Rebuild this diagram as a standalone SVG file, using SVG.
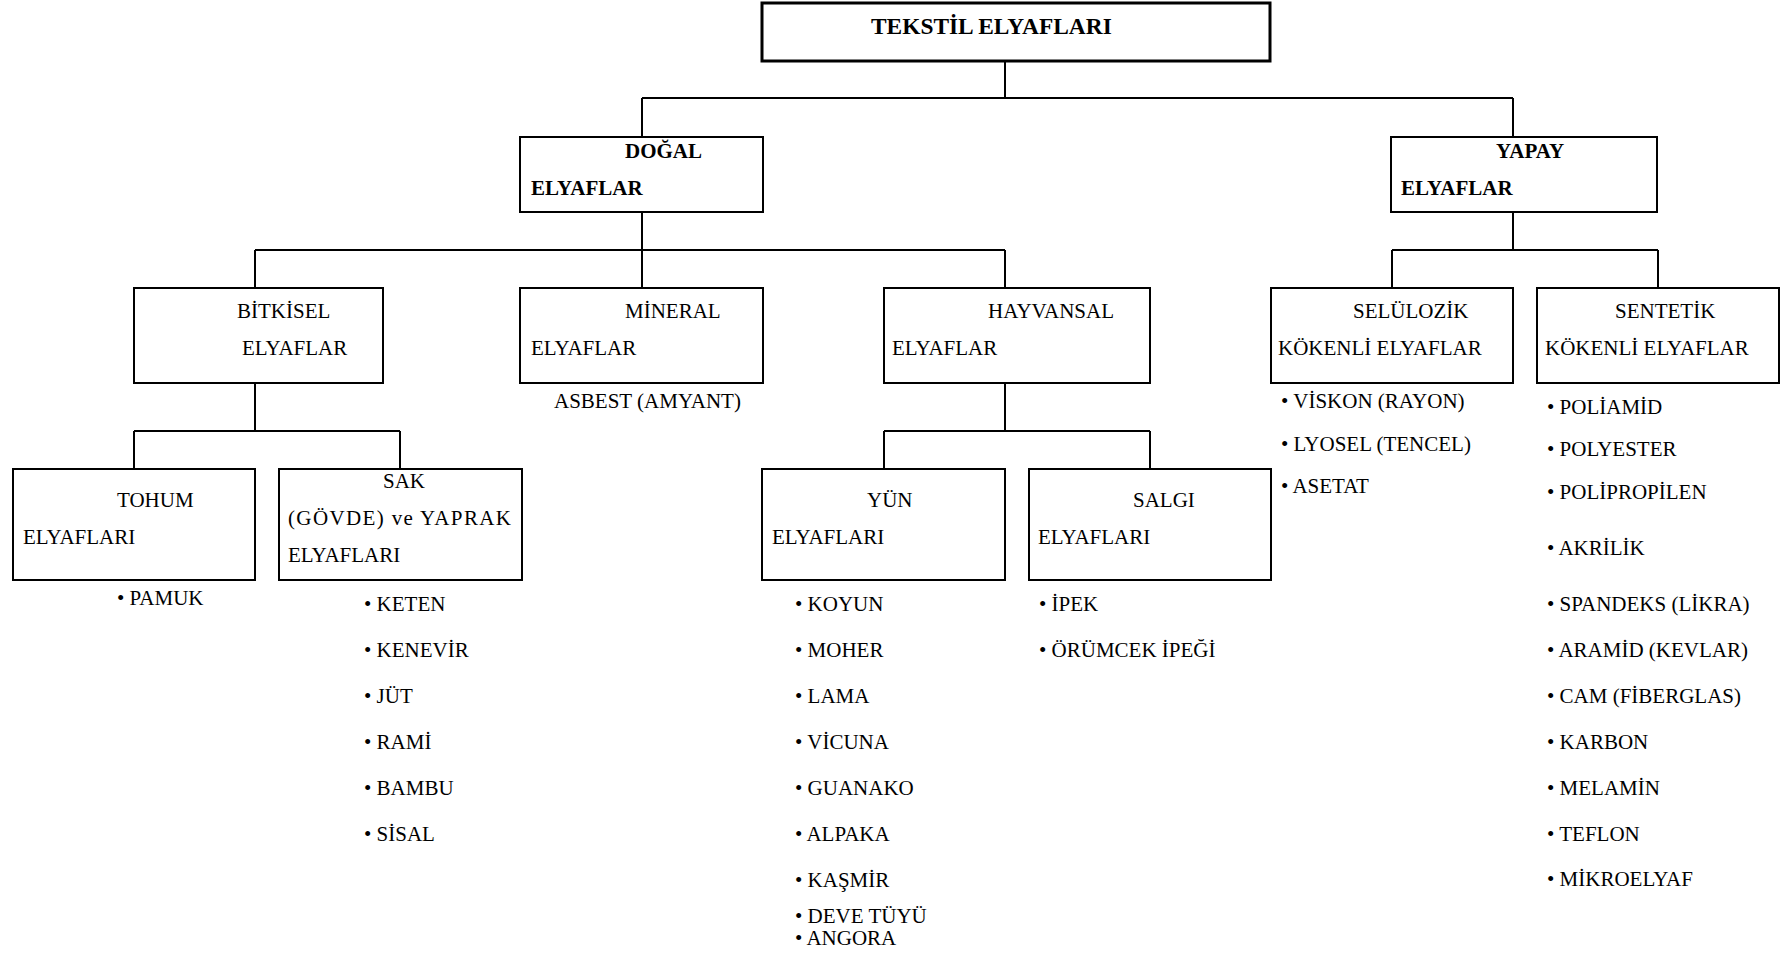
<svg xmlns="http://www.w3.org/2000/svg" width="1791" height="953" viewBox="0 0 1791 953">
<style>
text{font-family:"Liberation Serif","Times New Roman",serif;font-size:21px;fill:#000}
.b{font-weight:bold}
.t{font-size:23.4px;font-weight:bold}
rect{fill:#fff;stroke:#000;stroke-width:2}
.thick{stroke-width:3}
#connectors path{fill:none;stroke:#000;stroke-width:2}
</style>
<rect width="1791" height="953" style="fill:#fff;stroke:none"/>
<g id="connectors">
<path d="M1005 61V98M642 98H1513M642 98V137M1513 98V137"/>
<path d="M642 212V250M255 250H1005M255 250V288M642 250V288M1005 250V288"/>
<path d="M1513 212V250M1392 250H1658M1392 250V288M1658 250V288"/>
<path d="M255 383V431M134 431H400M134 431V469M400 431V469"/>
<path d="M1005 383V431M884 431H1150M884 431V469M1150 431V469"/>
</g>
<g id="tekstil"><rect class="thick" x="762" y="3" width="508" height="58"/><text class="t" x="871" y="34">TEKSTİL ELYAFLARI</text></g>
<g id="dogal"><rect x="520" y="137" width="243" height="75"/><text class="b" x="625" y="158">DOĞAL</text><text class="b" x="531" y="195">ELYAFLAR</text></g>
<g id="yapay"><rect x="1391" y="137" width="266" height="75"/><text class="b" x="1496" y="158">YAPAY</text><text class="b" x="1401" y="195">ELYAFLAR</text></g>
<g id="bitkisel"><rect x="134" y="288" width="249" height="95"/><text x="237" y="318">BİTKİSEL</text><text x="242" y="355">ELYAFLAR</text></g>
<g id="mineral"><rect x="520" y="288" width="243" height="95"/><text x="625" y="318">MİNERAL</text><text x="531" y="355">ELYAFLAR</text><text x="554" y="408">ASBEST (AMYANT)</text></g>
<g id="hayvansal"><rect x="884" y="288" width="266" height="95"/><text x="988" y="318">HAYVANSAL</text><text x="892" y="355">ELYAFLAR</text></g>
<g id="seluloz"><rect x="1271" y="288" width="242" height="95"/><text x="1353" y="318">SELÜLOZİK</text><text x="1278" y="355">KÖKENLİ ELYAFLAR</text>
<text x="1281" y="408">• VİSKON (RAYON)</text><text x="1281" y="451">• LYOSEL (TENCEL)</text><text x="1281" y="493">• ASETAT</text></g>
<g id="sentetik"><rect x="1537" y="288" width="242" height="95"/><text x="1615" y="318">SENTETİK</text><text x="1545" y="355">KÖKENLİ ELYAFLAR</text>
<text x="1547" y="414">• POLİAMİD</text><text x="1547" y="456">• POLYESTER</text><text x="1547" y="499">• POLİPROPİLEN</text><text x="1547" y="555">• AKRİLİK</text><text x="1547" y="611">• SPANDEKS (LİKRA)</text><text x="1547" y="657">• ARAMİD (KEVLAR)</text><text x="1547" y="703">• CAM (FİBERGLAS)</text><text x="1547" y="749">• KARBON</text><text x="1547" y="795">• MELAMİN</text><text x="1547" y="841">• TEFLON</text><text x="1547" y="886">• MİKROELYAF</text></g>
<g id="tohum"><rect x="13" y="469" width="242" height="111"/><text x="117" y="507">TOHUM</text><text x="23" y="544">ELYAFLARI</text><text x="117" y="605">• PAMUK</text></g>
<g id="sak"><rect x="279" y="469" width="243" height="111"/><text x="383" y="488">SAK</text><text x="288" y="525" textLength="223" lengthAdjust="spacing">(GÖVDE) ve YAPRAK</text><text x="288" y="562">ELYAFLARI</text>
<text x="364" y="611">• KETEN</text><text x="364" y="657">• KENEVİR</text><text x="364" y="703">• JÜT</text><text x="364" y="749">• RAMİ</text><text x="364" y="795">• BAMBU</text><text x="364" y="841">• SİSAL</text></g>
<g id="yun"><rect x="762" y="469" width="243" height="111"/><text x="867" y="507">YÜN</text><text x="772" y="544">ELYAFLARI</text>
<text x="795" y="611">• KOYUN</text><text x="795" y="657">• MOHER</text><text x="795" y="703">• LAMA</text><text x="795" y="749">• VİCUNA</text><text x="795" y="795">• GUANAKO</text><text x="795" y="841">• ALPAKA</text><text x="795" y="887">• KAŞMİR</text><text x="795" y="923">• DEVE TÜYÜ</text><text x="795" y="945">• ANGORA</text></g>
<g id="salgi"><rect x="1029" y="469" width="242" height="111"/><text x="1133" y="507">SALGI</text><text x="1038" y="544">ELYAFLARI</text>
<text x="1039" y="611">• İPEK</text><text x="1039" y="657">• ÖRÜMCEK İPEĞİ</text></g>
</svg>
